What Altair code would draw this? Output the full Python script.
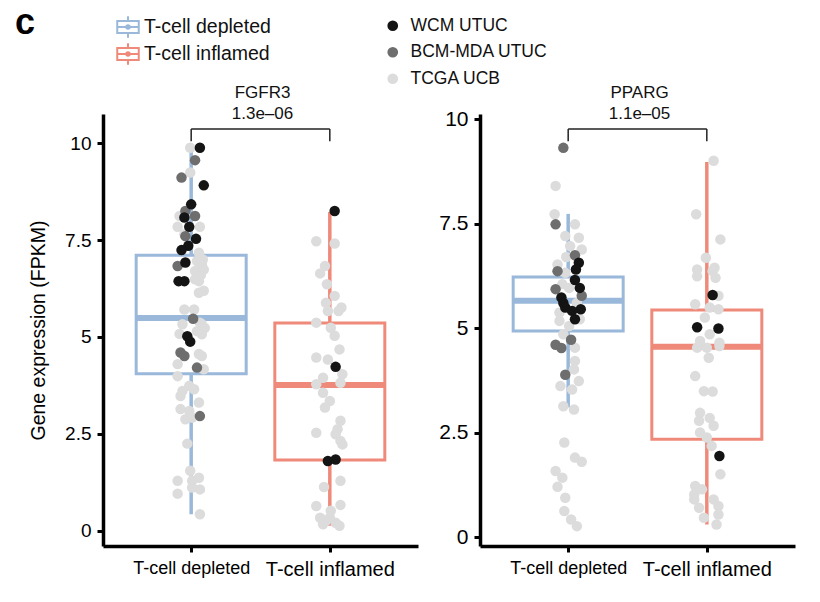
import altair as alt
import pandas as pd

# ---------------- data ----------------
groups = ["T-cell depleted", "T-cell inflamed"]
cohorts = ["WCM UTUC", "BCM-MDA UTUC", "TCGA UCB"]
cohort_colors = ["#141414", "#6e6e6e", "#dcdcdc"]
group_colors = ["#9ab8da", "#ef8a7b"]
genes = ["FGFR3", "PPARG"]
pvalues = ["1.3e\u201306", "1.1e\u201305"]
y_ticks = [0, 2.5, 5, 7.5, 10]

# cohort codes: W = WCM UTUC, B = BCM-MDA UTUC, T = TCGA UCB
# jitter values are horizontal offsets (pixels)
fgfr3_dep_val = [9.88, 9.88, 9.56, 9.24, 9.11, 8.91, 8.42, 8.25, 8.12, 8.08, 8.12, 7.84, 7.84, 7.84, 7.65,
                 7.6, 7.53, 7.35, 7.24, 7.17, 7.0, 6.96, 6.87, 6.83, 6.92, 6.74, 6.7, 6.6, 6.44, 6.44,
                 6.49, 6.44, 6.19, 6.14, 5.71, 5.71, 5.47, 5.37, 5.33, 5.33, 5.23, 5.15, 5.08, 5.07, 5.02,
                 4.88, 4.6, 4.51, 4.56, 4.51, 4.21, 4.3, 3.99, 4.17, 3.74, 3.61, 3.65, 3.48, 3.31, 3.14,
                 3.09, 2.88, 2.92, 2.96, 2.25, 1.55, 1.37, 1.29, 1.29, 1.12, 1.07, 0.96, 0.43]
fgfr3_dep_jit = [-1, 9, 4, -1, -10, 13, 0, -6, 4, -7, -12, -2, -14, 9, -7,
                 -6, 5, -3, -10, 8, 12, 6, 11, -14, -6, 13, 4, 10, -13, -7,
                 4, 8, 13, 8, -7, 3, 2, 9, -9, 11, 14, 6, -12, 11, -4,
                 -1, -11, -7, 8, 11, 6, -14, -14, 13, -2, -9, 3, -11, 8, -11,
                 -2, -6, 1, 9, -4, -1, 8, -14, 1, 1, 9, -14, 9]
fgfr3_dep_coh = "TWBTBWWBBWTWTTTBWWWTTTTBWTTTWWTTTTTTBTTTTTTTWWBBTTBTTTTTTTTTTTTBTTTTTTTTT"

fgfr3_inf_val = [8.25, 7.47, 7.41, 6.83, 6.64, 6.36, 6.06, 5.88, 5.76, 5.67, 5.67, 5.37, 5.24, 5.03, 4.68,
                 4.47, 4.42, 4.23, 4.04, 3.95, 3.78, 3.82, 3.56, 3.35, 3.18, 2.84, 2.62, 2.49, 2.53, 2.32,
                 2.23, 1.8, 1.84, 1.29, 1.13, 0.64, 0.67, 0.52, 0.34, 0.34, 0.26, 0.21, 0.17, 0.13]
fgfr3_inf_jit = [5, -14, 5, -5, -10, -3, 5, -4, 12, -2, 9, -14, 1, 5, 10,
                 -14, -2, 6, 13, -7, -14, 11, -7, 0, -5, 11, 8, 6, -14, 11,
                 13, -2, 6, 11, -6, -14, 11, 1, -10, 0, -4, 6, -7, 10]
fgfr3_inf_coh = "WTTTTTTTTTTTTTTTTWTTTTTTTTTTTTTWWTTTTTTTTTTT"

pparg_dep_val = [9.31, 8.4, 7.72, 7.48, 7.48, 7.2, 7.16, 6.96, 6.88, 6.74, 6.7, 6.56, 6.52, 6.4, 6.36,
                 6.32, 6.15, 6.05, 5.96, 5.93, 5.96, 5.73, 5.77, 5.6, 5.6, 5.49, 5.45, 5.41, 5.21, 5.37,
                 5.17, 5.21, 5.05, 4.85, 4.72, 4.6, 4.52, 4.53, 4.21, 4.01, 3.88, 3.73, 3.61, 3.53, 3.13,
                 3.05, 2.26, 1.9, 1.8, 1.58, 1.42, 1.2, 0.94, 0.62, 0.42, 0.26]
pparg_dep_jit = [-5, -13, -14, -13, 7, -3, 11, 2, 14, 7, -2, 11, -11, 8, -11,
                 -3, 7, -6, 12, -13, 1, -7, 14, 9, -5, -3, 13, 4, 7, -9,
                 -9, 12, 1, -5, 3, -13, -7, 7, 7, 6, -3, 11, -8, 4, -5,
                 6, -4, 7, 14, -13, -6, -11, -3, -4, 3, 9]
pparg_dep_coh = "BTTBTTTTTBTWTWBTWTWBTWBTWWWWWTTTTTBBBTTTBTTTTTTTTTTTTTTT"

pparg_inf_val = [9.0, 7.72, 7.12, 6.68, 6.4, 6.44, 6.24, 6.36, 6.2, 5.79, 5.77, 5.57, 5.49, 5.45, 5.25,
                 5.02, 4.99, 4.85, 4.69, 4.65, 4.53, 4.53, 4.57, 4.29, 3.85, 3.49, 3.48, 2.97, 2.85, 2.78,
                 2.66, 2.5, 2.38, 2.18, 1.94, 1.5, 1.22, 1.14, 1.02, 0.9, 0.9, 0.7, 0.74, 0.46, 0.54, 0.3]
pparg_inf_jit = [7, -11, 14, -1, -10, 8, -10, 6, 9, 6, 12, -12, 3, 12, -2,
                 -10, 12, 3, -7, 13, -10, 0, 13, 2, -12, -3, 6, -7, 3, -8,
                 7, -7, 0, 5, 13, 14, -12, -5, -13, -13, 7, -8, 12, -3, 12, 10]
pparg_inf_coh = "TTTTTTTTTWTTTTTWWTTTTTTTTTTTTTTTTTWTTTTTTTTTTT"

# box statistics per group: [depleted, inflamed]
fgfr3_lo = [0.43, 0.13]
fgfr3_q1 = [4.05, 1.83]
fgfr3_med = [5.49, 3.76]
fgfr3_q3 = [7.11, 5.36]
fgfr3_hi = [9.88, 8.22]
pparg_lo = [3.1, 0.3]
pparg_q1 = [4.93, 2.34]
pparg_med = [5.65, 4.55]
pparg_q3 = [6.22, 5.43]
pparg_hi = [7.73, 8.97]

# significance brackets: [bar level, tick end]
fgfr3_bracket = [10.36, 10.05]
pparg_bracket = [9.76, 9.47]

fgfr3_ydomain = [-0.39, 10.75]
pparg_ydomain = [-0.215, 10.12]

# ---------------- layout / style ----------------
W, H = 315, 432
PX_PER_UNIT = W / 2.2
FONT = "Liberation Sans"
code_map = {"W": cohorts[0], "B": cohorts[1], "T": cohorts[2]}
draw_rank = {"T": 0, "B": 1, "W": 2}

BOX_GLYPH = ("M-1,-0.55H1V0.55H-1Z M-1,0H1 M0,-1V-0.55 M0,0.55V1 "
             "M-0.16,0A0.16,0.16,0,1,0,0.16,0A0.16,0.16,0,1,0,-0.16,0Z")

label_expr = f"datum.value == 1 ? '{groups[0]}' : '{groups[1]}'"


def panel(gene, pval, data, lo, q1, med, q3, hi, bracket, ydom, ylab_size, ytitle, extra=None):
    recs = []
    for gi, (vals, jits, codes) in enumerate(data):
        for v, j, c in zip(vals, jits, codes):
            recs.append({"x": gi + 1 + j / PX_PER_UNIT, "value": v,
                         "cohort": code_map[c], "rank": draw_rank[c]})
    pts = pd.DataFrame(recs).sort_values("rank", kind="stable").reset_index(drop=True)

    box = pd.DataFrame({"x": [1, 2], "group": groups, "lo": lo, "q1": q1,
                        "med": med, "q3": q3, "hi": hi})
    br = pd.DataFrame({"x": [1], "x2": [2], "y": [bracket[0]], "y2": [bracket[1]]})
    brv = pd.DataFrame({"x": [1, 2], "y": [bracket[0]] * 2, "y2": [bracket[1]] * 2})

    xs = alt.Scale(domain=[0.4, 2.6], nice=False, zero=False)
    xa = alt.Axis(values=[1, 2], labelExpr=label_expr, title=None, grid=False,
                  labelFontSize=alt.condition("datum.value == 2", alt.value(20), alt.value(18)),
                  labelPadding=7, tickSize=6, tickWidth=3, domainWidth=3.5)
    ys = alt.Scale(domain=ydom, nice=False, zero=False)
    ya = alt.Axis(values=y_ticks, format=".1~f", title=ytitle, grid=False,
                  labelFontSize=ylab_size, labelPadding=6, tickSize=6, tickWidth=3,
                  domainWidth=3.5, titleFontSize=19.5, titleFontWeight="normal", titlePadding=16)

    def X(f):
        return alt.X(f, type="quantitative", scale=xs, axis=xa)

    def Y(f):
        return alt.Y(f, type="quantitative", scale=ys, axis=ya)

    # group colour for whiskers / medians keyed by the group index (no legend of its own)
    grp_color = alt.Color("x:N", scale=alt.Scale(domain=[1, 2], range=group_colors), legend=None)

    whisk = alt.Chart(box).mark_rule(strokeWidth=3.5).encode(
        x=X("x"), y=Y("lo"), y2="hi", color=grp_color)
    boxes = alt.Chart(box).mark_bar(size=110, orient="vertical", fill="white", strokeWidth=3).encode(
        x=X("x"), y=Y("q1"), y2="q3",
        stroke=alt.Stroke("group:N", scale=alt.Scale(domain=groups, range=group_colors),
                          legend=alt.Legend(orient="none", legendX=13, legendY=-99, title=None,
                                            symbolType=BOX_GLYPH, symbolSize=462,
                                            symbolStrokeWidth=2, symbolFillColor="white",
                                            labelFontSize=19.5, labelFont=FONT, labelColor="#111",
                                            rowPadding=-6, labelOffset=4, padding=0)))
    meds = alt.Chart(box).mark_tick(orient="horizontal", size=110, thickness=6, opacity=1).encode(
        x=X("x"), y=Y("med"), color=grp_color)
    points = alt.Chart(pts).mark_circle(size=110, opacity=1).encode(
        x=X("x"), y=Y("value"),
        fill=alt.Fill("cohort:N", scale=alt.Scale(domain=cohorts, range=cohort_colors),
                      sort=cohorts,
                      legend=alt.Legend(orient="none", legendX=281, legendY=-97, title=None,
                                        symbolType="circle", symbolSize=115, symbolStrokeWidth=0,
                                        labelFontSize=17.5, labelFont=FONT, labelColor="#111",
                                        rowPadding=7.5, labelOffset=9, padding=0)),
        order=alt.Order("rank:Q"))
    bracket_h = alt.Chart(br).mark_rule(strokeWidth=1.5, color="#222").encode(
        x=X("x"), x2="x2", y=Y("y"))
    bracket_v = alt.Chart(brv).mark_rule(strokeWidth=1.5, color="#222").encode(
        x=X("x"), y=Y("y"), y2="y2")
    title_txt = alt.Chart(pd.DataFrame({"t": [gene]})).mark_text(
        fontSize=17, font=FONT, color="#111", baseline="middle", align="center").encode(
        text="t:N", x=alt.value(W / 2 + 2), y=alt.value(-21))
    p_txt = alt.Chart(pd.DataFrame({"t": [pval]})).mark_text(
        fontSize=17, font=FONT, color="#111", baseline="middle", align="center").encode(
        text="t:N", x=alt.value(W / 2 + 2), y=alt.value(0))
    layers = [whisk, boxes, meds, points, bracket_h, bracket_v, title_txt, p_txt]
    if extra is not None:
        layers.append(extra)
    return alt.layer(*layers).properties(width=W, height=H)


panel_label = alt.Chart(pd.DataFrame({"t": ["c"]})).mark_text(
    fontSize=36, fontWeight="bold", font=FONT, color="#000", align="left",
    baseline="alphabetic").encode(text="t:N", x=alt.value(-88), y=alt.value(-80))

left = panel(genes[0], pvalues[0],
             [(fgfr3_dep_val, fgfr3_dep_jit, fgfr3_dep_coh), (fgfr3_inf_val, fgfr3_inf_jit, fgfr3_inf_coh)],
             fgfr3_lo, fgfr3_q1, fgfr3_med, fgfr3_q3, fgfr3_hi, fgfr3_bracket, fgfr3_ydomain,
             19, "Gene expression (FPKM)", extra=panel_label)
right = panel(genes[1], pvalues[1],
              [(pparg_dep_val, pparg_dep_jit, pparg_dep_coh), (pparg_inf_val, pparg_inf_jit, pparg_inf_coh)],
              pparg_lo, pparg_q1, pparg_med, pparg_q3, pparg_hi, pparg_bracket, pparg_ydomain,
              21, None)

chart = alt.hconcat(left, right, spacing=62, bounds="flush").resolve_scale(
    x="independent", y="independent", fill="shared", stroke="shared", color="shared"
).resolve_legend(fill="shared", stroke="shared").properties(
    padding={"left": 15, "top": 5, "right": 20, "bottom": 20},
    autosize=alt.AutoSizeParams(type="pad"),
    background="white",
).configure_view(stroke=None).configure_axis(
    domainColor="#000", tickColor="#000", labelColor="#000", titleColor="#000",
    labelFont=FONT, titleFont=FONT
).configure_text(font=FONT)

chart.save("out.html", embed_options={"renderer": "svg", "actions": False})
